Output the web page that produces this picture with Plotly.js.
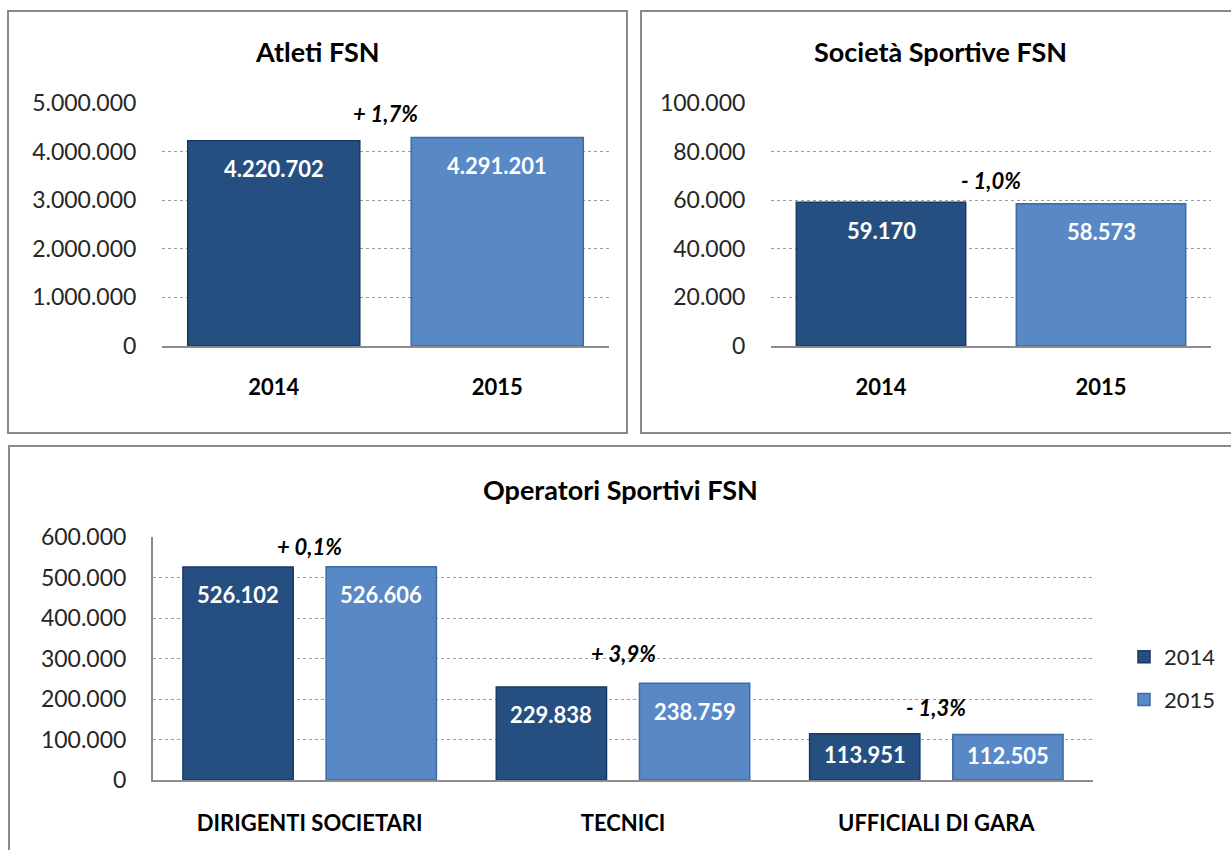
<!DOCTYPE html>
<html>
<head>
<meta charset="utf-8">
<script src="https://cdn.plot.ly/plotly-3.0.1.min.js"></script>
<style>
  html, body { margin: 0; padding: 0; background: #fff; overflow: hidden; width: 1231px; height: 850px; }
  #chart { width: 1231px; height: 850px; overflow: hidden; }
</style>
</head>
<body>
<div id="chart"></div>
<script>
// ---- DATA ----
const years = ['2014', '2015'];
const atleti = [4220702, 4291201];
const societa = [59170, 58573];
const operatoriCategories = ['DIRIGENTI SOCIETARI', 'TECNICI', 'UFFICIALI DI GARA'];
const operatori2014 = [526102, 229838, 113951];
const operatori2015 = [526606, 238759, 112505];
const titles = ['Atleti FSN', 'Società Sportive FSN', 'Operatori Sportivi FSN'];

// ---- STYLE ----
const W = 1231, H = 850;
const FONT = 'Lato, "Open Sans", sans-serif';
const C2014 = '#264f81', C2014L = '#1b3960';
const C2015 = '#5889c6', C2015L = '#3d6aa3';
const GRID = '#9c9c9c', AXIS = '#8c8c8c';
const fx = p => p / W;
const fy = p => 1 - p / H;
const PLOT_H = 243;
const BARGAP = 0.086, BARGROUPGAP = 0.23;
const PCT_SHIFT_BOTTOM = [20, 30, 26];

function fmt(v) { return String(v).replace(/\B(?=(\d{3})+(?!\d))/g, '.'); }
function pct(a, b) {
  const p = (b / a - 1) * 100;
  return (p >= 0 ? '+ ' : '- ') + Math.abs(p).toFixed(1).replace('.', ',') + '%';
}

const traces = [
  { type: 'bar', x: years, y: atleti, xaxis: 'x', yaxis: 'y', width: 0.77,
    marker: { color: [C2014, C2015], line: { color: [C2014L, C2015L], width: 1.5 } },
    showlegend: false, hoverinfo: 'none' },
  { type: 'bar', x: years, y: societa, xaxis: 'x2', yaxis: 'y2', width: 0.77,
    marker: { color: [C2014, C2015], line: { color: [C2014L, C2015L], width: 1.5 } },
    showlegend: false, hoverinfo: 'none' },
  { type: 'bar', name: years[0], x: operatoriCategories, y: operatori2014, xaxis: 'x3', yaxis: 'y3',
    legendgroup: 'a', marker: { color: C2014, line: { color: C2014L, width: 1.5 } }, hoverinfo: 'none' },
  { type: 'bar', name: years[1], x: operatoriCategories, y: operatori2015, xaxis: 'x3', yaxis: 'y3',
    legendgroup: 'b', marker: { color: C2015, line: { color: C2015L, width: 1.5 } }, hoverinfo: 'none' }
];

const annotations = [];
// titles
[[317, 52], [940, 52], [620, 490]].forEach((p, i) => {
  annotations.push({ xref: 'paper', yref: 'paper', x: fx(p[0]), y: fy(p[1]), text: '<b>' + titles[i] + '</b>',
    showarrow: false, xanchor: 'center', yanchor: 'middle', font: { family: FONT, size: 27, color: '#000' } });
});

function barLabel(xr, yr, x, v, maxV) {
  const h = v / maxV * PLOT_H;
  annotations.push({ xref: xr, yref: yr, x: x, y: v, text: '<b>' + fmt(v) + '</b>', showarrow: false,
    yanchor: 'middle', yshift: -Math.min(28, h / 2 - 2), font: { family: FONT, size: 22, color: '#fff' } });
}
function pctLabel(xr, yr, x, a, b, shift) {
  annotations.push({ xref: xr, yref: yr, x: x, y: Math.max(a, b), text: '<b><i>' + pct(a, b) + '</i></b>',
    showarrow: false, yanchor: 'middle', yshift: shift, font: { family: FONT, size: 22, color: '#000' } });
}

atleti.forEach((v, i) => barLabel('x', 'y', i, v, 5000000));
pctLabel('x', 'y', 0.5, atleti[0], atleti[1], 24);
societa.forEach((v, i) => barLabel('x2', 'y2', i, v, 100000));
pctLabel('x2', 'y2', 0.5, societa[0], societa[1], 22);
const off = (1 - BARGAP) / 4;
operatoriCategories.forEach((c, i) => {
  barLabel('x3', 'y3', i - off, operatori2014[i], 600000);
  barLabel('x3', 'y3', i + off, operatori2015[i], 600000);
  pctLabel('x3', 'y3', i, operatori2014[i], operatori2015[i], PCT_SHIFT_BOTTOM[i]);
});

const border = (x0, y0, x1, y1) => ({ type: 'rect', xref: 'paper', yref: 'paper',
  x0: fx(x0), x1: fx(x1), y0: fy(y0), y1: fy(y1), line: { color: '#8a8a8a', width: 2 }, fillcolor: 'rgba(0,0,0,0)' });

const yBase = {
  showgrid: true, gridcolor: GRID, griddash: 'dot', gridwidth: 1, zeroline: false,
  tickformat: ',', ticks: 'outside', ticklen: 20, tickcolor: 'rgba(0,0,0,0)',
  tickfont: { family: FONT, size: 23, color: '#262626' }, fixedrange: true
};
const xBase = {
  type: 'category', showgrid: false, zeroline: false, showline: true, linecolor: AXIS, linewidth: 2,
  ticks: 'outside', ticklen: 21, tickcolor: 'rgba(0,0,0,0)',
  tickfont: { family: FONT, size: 22, color: '#000', weight: 'bold' }, fixedrange: true
};

const layout = {
  width: W, height: H, margin: { l: 0, r: 0, t: 0, b: 0 },
  paper_bgcolor: '#fff', plot_bgcolor: 'rgba(0,0,0,0)',
  separators: ',.',
  barmode: 'group', bargap: BARGAP, bargroupgap: BARGROUPGAP,
  font: { family: FONT },
  xaxis: Object.assign({}, xBase, { domain: [fx(162), fx(609)], anchor: 'y', range: [-0.5, 1.5] }),
  yaxis: Object.assign({}, yBase, { domain: [fy(346), fy(103)], anchor: 'x', range: [0, 5000000], dtick: 1000000 }),
  xaxis2: Object.assign({}, xBase, { domain: [fx(771), fx(1211)], anchor: 'y2', range: [-0.5, 1.5] }),
  yaxis2: Object.assign({}, yBase, { domain: [fy(346), fy(103)], anchor: 'x2', range: [0, 100000], dtick: 20000 }),
  xaxis3: Object.assign({}, xBase, { domain: [fx(153), fx(1093)], anchor: 'y3', range: [-0.5, 2.5], ticklen: 23,
    tickfont: { family: FONT, size: 22, color: '#000', weight: 'bold' } }),
  yaxis3: Object.assign({}, yBase, { domain: [fy(780), fy(537)], anchor: 'x3', range: [0, 600000], dtick: 100000,
    showline: true, linecolor: AXIS, linewidth: 2 }),
  legend: { x: fx(1124), y: fy(636), xanchor: 'left', yanchor: 'top', tracegroupgap: 11,
    font: { family: FONT, size: 22, color: '#262626' }, bgcolor: 'rgba(0,0,0,0)' },
  shapes: [border(8, 11, 627, 433), border(641, 11, 1240, 433), border(9, 446, 1240, 860)],
  annotations: annotations
};

Plotly.newPlot('chart', traces, layout, { displayModeBar: false, staticPlot: true });
</script>
</body>
</html>
